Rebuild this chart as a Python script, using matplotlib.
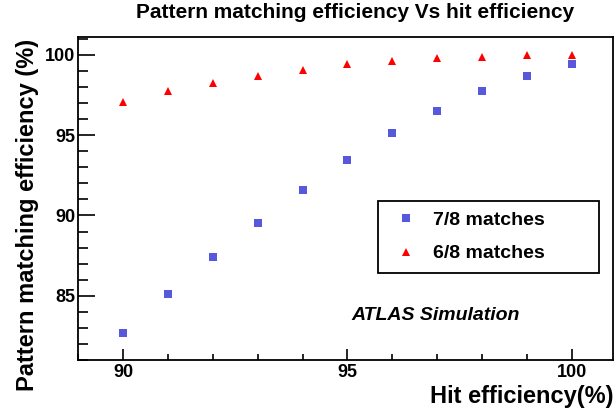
import matplotlib
matplotlib.use("Agg")
import matplotlib.pyplot as plt
from matplotlib.ticker import MultipleLocator

plt.rcParams['font.family'] = ['Liberation Sans', 'DejaVu Sans']

hit_eff = [90, 91, 92, 93, 94, 95, 96, 97, 98, 99, 100]
match_7of8 = [82.66, 85.09, 87.43, 89.51, 91.59, 93.46, 95.16, 96.51, 97.78, 98.71, 99.46]
match_6of8 = [97.09, 97.76, 98.27, 98.69, 99.08, 99.42, 99.64, 99.79, 99.89, 99.97, 99.99]
labels = ["7/8 matches", "6/8 matches"]
x_ticks = [90, 95, 100]
y_ticks = [85, 90, 95, 100]

fig = plt.figure(figsize=(6.16, 4.18), dpi=100)
ax = fig.add_axes([0.1271, 0.1388, 0.8685, 0.772])

ax.plot(hit_eff, match_7of8, linestyle='none', marker='s', markersize=5.3,
        markeredgewidth=0, color='#5858dc', label=labels[0])
ax.plot(hit_eff, match_6of8, linestyle='none', marker='^', markersize=5.5,
        markeredgewidth=0, color='#ff0000', label=labels[1])

ax.set_xlim(89.0, 100.93)
ax.set_ylim(81.0, 101.1)
ax.set_xticks(x_ticks)
ax.set_yticks(y_ticks)
ax.xaxis.set_minor_locator(MultipleLocator(1))
ax.yaxis.set_minor_locator(MultipleLocator(1))
ax.tick_params(axis='both', which='both', direction='in', top=False, right=False,
               width=1.2, colors='black')
ax.tick_params(axis='x', which='major', length=7.7, pad=3, labelsize=13)
ax.tick_params(axis='x', which='minor', length=4.3)
ax.tick_params(axis='y', which='major', length=12.2, pad=2, labelsize=13)
ax.tick_params(axis='y', which='minor', length=7.2)
for lbl in ax.get_xticklabels() + ax.get_yticklabels():
    lbl.set_fontweight('bold')
for sp in ax.spines.values():
    sp.set_linewidth(1.3)
    sp.set_color('black')

fig.text(0.576, 0.971, "Pattern matching efficiency Vs hit efficiency",
         ha='center', va='center', fontsize=15, fontweight='bold')
fig.text(0.9956, 1 - 397 / 418, "Hit efficiency(%)", ha='right', va='center',
         fontsize=17, fontweight='bold')
fig.text(28 / 616, 1 - 39 / 418, "Pattern matching efficiency (%)", rotation=90,
         ha='center', va='top', fontsize=17, fontweight='bold')
fig.text(436 / 616, 1 - 315 / 418, "ATLAS Simulation", ha='center', va='center',
         fontsize=14, fontweight='bold', fontstyle='italic')

leg = ax.legend(loc='upper left', bbox_to_anchor=(0.6141, 0.5199, 0.9724 - 0.6141, 0.0),
                bbox_transform=fig.transFigure, mode='expand', borderaxespad=0,
                numpoints=1, fancybox=False, framealpha=1, edgecolor='black',
                prop={'size': 14, 'weight': 'bold'}, borderpad=0.54,
                handlelength=1.74, handletextpad=0.55, labelspacing=0.82)
leg.get_frame().set_linewidth(1.3)

fig.savefig("out.png", dpi=100)
